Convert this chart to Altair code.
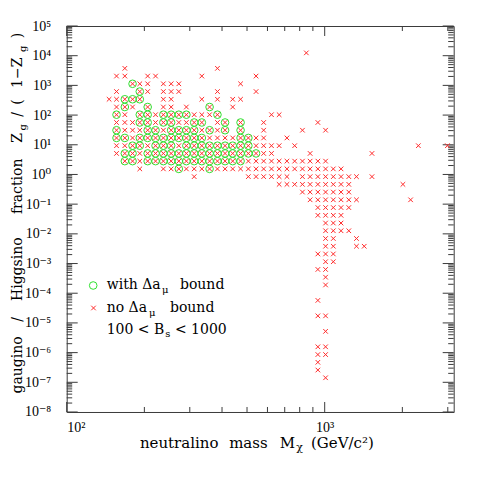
import altair as alt
import pandas as pd

# ---- data -----------------------------------------------------------------
# neutralino mass columns (GeV/c^2), grid columns c0..c40
MASS = [146, 156, 168, 180, 192, 206, 221, 237, 254, 272, 291, 312, 334, 358,
        384, 411, 440, 472, 506, 542, 580, 622, 666, 714, 765, 820, 878, 941,
        1008, 1080, 1157, 1240, 1328, 1423, 1525, 1634, 1750, 1876, 2010, 2153, 2307]
# gaugino/higgsino ratio rows r0..r40
RATIO = [3752, 2060, 1131, 620, 341, 187, 103, 56.3, 30.9, 17.0, 9.31, 5.11, 2.81,
         1.54, 0.845, 0.464, 0.255, 0.140, 0.0767, 0.0421, 0.0231, 0.0127, 0.00696,
         0.00382, 0.00210, 0.00115, 6.32e-4, 3.47e-4, 1.90e-4, 1.04e-4, 5.73e-5,
         3.15e-5, 1.73e-5, 9.48e-6, 5.20e-6, 2.86e-6, 1.57e-6, 8.60e-7, 4.72e-7,
         2.59e-7, 1.42e-7]

# row -> columns holding a "no bound" cross
CROSS_COLS = {
    0: [2, 14],
    1: [1, 2, 5, 6, 12, 19],
    2: [3, 4, 5, 7, 8, 9, 17],
    3: [1, 4, 5, 7, 8, 9, 14, 19],
    4: [0, 1, 2, 3, 4, 7, 8, 12, 14, 16, 17],
    5: [1, 2, 3, 5, 7, 8, 10, 13, 16],
    6: [1, 2, 4, 5, 6, 7, 8, 9, 10, 11, 12, 13, 14, 21, 22],
    7: [1, 2, 3, 4, 5, 6, 7, 8, 9, 10, 11, 12, 14, 15, 17, 20, 27],
    8: [1, 2, 3, 4, 5, 6, 7, 8, 9, 10, 11, 12, 13, 14, 15, 17, 20, 25, 28],
    9: [1, 2, 3, 4, 5, 6, 7, 8, 9, 10, 11, 12, 13, 14, 15, 16, 17, 18, 19, 20, 23],
    10: [1, 2, 3, 4, 5, 6, 7, 8, 9, 10, 11, 12, 13, 14, 15, 16, 17, 18, 19, 20, 21, 22, 24, 40],
    11: [1, 2, 3, 4, 5, 6, 7, 8, 9, 10, 11, 12, 13, 14, 15, 16, 17, 18, 19, 20, 21, 26, 34],
    12: [2, 3, 4, 5, 6, 7, 8, 9, 10, 11, 12, 13, 14, 15, 16, 17, 18, 19, 20, 21, 22, 23, 24, 25, 26, 27, 28],
    13: [4, 7, 8, 9, 10, 11, 12, 13, 14, 15, 16, 17, 18, 19, 20, 21, 22, 23, 24, 25, 26, 27, 28, 29, 30],
    14: [11, 18, 19, 20, 21, 22, 23, 25, 26, 27, 28, 29, 30, 31, 32, 34],
    15: [22, 23, 24, 25, 26, 27, 28, 29, 30, 31, 38],
    16: [25, 26, 27, 28, 29, 30, 31],
    17: [26, 27, 28, 29, 30, 31, 32, 39],
    18: [27, 28, 29, 30, 31],
    19: [27, 28, 29, 30],
    20: [28, 29, 30],
    21: [28, 29, 30, 31],
    22: [28, 29, 32],
    23: [28, 29, 32, 33],
    24: [27, 28, 29],
    25: [28, 29],
    26: [27, 28],
    27: [28],
    28: [28],
    30: [27],
    32: [27, 28],
    34: [28],
    36: [27, 28],
    37: [27, 28],
    38: [27],
    39: [27],
    40: [28],
}
# row -> columns that also carry a "with bound" circle
CIRCLE_COLS = {
    2: [3],
    3: [4],
    4: [2, 3, 4],
    5: [2, 5, 13],
    6: [1, 4, 5, 7, 8, 9, 10, 14],
    7: [4, 5, 7, 8, 11, 12, 15, 17],
    8: [1, 5, 6, 8, 9, 10, 11, 13, 15, 17],
    9: [1, 2, 4, 5, 6, 7, 8, 9, 10, 11, 12, 17, 18],
    10: [3, 4, 6, 7, 8, 10, 11, 12, 13, 14, 15, 16, 17, 18],
    11: [2, 3, 5, 6, 7, 8, 9, 10, 11, 12, 13, 14, 15, 16, 17, 18, 19],
    12: [2, 3, 5, 6, 7, 8, 9, 10, 11, 12, 13, 14, 15, 16, 17],
    13: [9, 13],
}
# isolated crosses off the grid
EXTRA_MASS = [849, 2990]
EXTRA_RATIO = [12450, 9.31]

# axis decorations
Y_MAJOR = [10.0 ** e for e in range(-8, 6)]
Y_MINOR = [k * 10.0 ** e for e in range(-8, 5) for k in range(2, 10)]
X_MAJOR = [100, 1000]
X_MINOR = [200, 300, 400, 500, 600, 700, 800, 900, 2000, 3000]

# ---- tables ----------------------------------------------------------------
cross_rows = [{"mass": MASS[c], "ratio": RATIO[r]} for r, cols in CROSS_COLS.items() for c in cols]
cross_rows += [{"mass": m, "ratio": v} for m, v in zip(EXTRA_MASS, EXTRA_RATIO)]
circle_rows = [{"mass": MASS[c], "ratio": RATIO[r]} for r, cols in CIRCLE_COLS.items() for c in cols]
crosses = pd.DataFrame(cross_rows)
circles = pd.DataFrame(circle_rows)

W, H = 387, 386
SERIF = "DejaVu Serif"
LABF = "Liberation Serif, DejaVu Serif"
RED = "#ff2a2a"
GREEN = "#2ee02e"
AX = "#3a3a3a"
X_PATH = "M-1,-1L1,1M-1,1L1,-1"

XS = alt.Scale(type="log", domain=[100, 3162.3], nice=False)
YS = alt.Scale(type="log", domain=[1e-8, 1e5], nice=False)
X_AX = alt.Axis(values=X_MAJOR, title=None, ticks=False, domain=False, grid=False,
                labelFont=LABF, labelFontSize=14, labelColor="black", labelPadding=9,
                labelExpr="['10²','10³'][round(log(datum.value)/LN10)-2]")
Y_AX = alt.Axis(values=Y_MAJOR, title=None, ticks=False, domain=False, grid=False,
                labelFont=LABF, labelFontSize=14, labelColor="black", labelPadding=16,
                labelExpr="['10⁻⁸','10⁻⁷','10⁻⁶','10⁻⁵','10⁻⁴','10⁻³','10⁻²','10⁻¹','10⁰','10¹','10²','10³','10⁴','10⁵'][round(log(datum.value)/LN10)+8]")


def ytick(vals, x0, x1):
    return alt.Chart(pd.DataFrame({"v": vals})).mark_rule(color=AX, strokeWidth=1).encode(
        y=alt.Y("v:Q", scale=YS, axis=Y_AX), x=alt.value(x0), x2=alt.value(x1))


def xtick(vals, y0, y1):
    return alt.Chart(pd.DataFrame({"v": vals})).mark_rule(color=AX, strokeWidth=1).encode(
        x=alt.X("v:Q", scale=XS, axis=X_AX), y=alt.value(y0), y2=alt.value(y1))


def txt(s, x, y, size=14, align="left", angle=0, font=SERIF):
    return alt.Chart(alt.Data(values=[{"t": s}])).mark_text(
        align=align, baseline="alphabetic", fontSize=size, font=font, angle=angle,
        color="black").encode(text="t:N", x=alt.value(x), y=alt.value(y))


ticks = [
    ytick(Y_MAJOR, 0, 11), ytick(Y_MINOR, 0, 5.5),
    ytick(Y_MAJOR, W - 11, W), ytick(Y_MINOR, W - 5.5, W),
    xtick(X_MAJOR, H - 10, H), xtick(X_MINOR, H - 5, H),
    xtick(X_MAJOR, 0, 10), xtick(X_MINOR, 0, 5),
]

circ_layer = alt.Chart(circles).mark_point(
    shape="circle", filled=False, color=GREEN, strokeWidth=1, size=58, opacity=1
).encode(x=alt.X("mass:Q", scale=XS, axis=X_AX), y=alt.Y("ratio:Q", scale=YS, axis=Y_AX))

cross_layer = alt.Chart(crosses).mark_point(
    shape=X_PATH, filled=False, color=RED, strokeWidth=1, size=21, opacity=1
).encode(x=alt.X("mass:Q", scale=XS, axis=X_AX), y=alt.Y("ratio:Q", scale=YS, axis=Y_AX))

leg_circ = alt.Chart(alt.Data(values=[{"k": 1}])).mark_point(
    shape="circle", filled=False, color=GREEN, strokeWidth=1, size=58, opacity=1
).encode(x=alt.value(26.5), y=alt.value(259.5))
leg_cross = alt.Chart(alt.Data(values=[{"k": 1}])).mark_point(
    shape=X_PATH, filled=False, color=RED, strokeWidth=1, size=21, opacity=1
).encode(x=alt.value(26.8), y=alt.value(282))

YT = -44.5   # baseline of the rotated y title (plot coords)
YS_SUB = YT + 4
texts = [
    # legend
    txt("with Δa", 40, 263.3), txt("μ", 95.3, 267.5, size=10), txt("bound", 113.3, 263.3),
    txt("no Δa", 40, 285.7), txt("μ", 82.3, 290, size=10), txt("bound", 103.3, 285.7),
    txt("100 < B", 40, 308), txt("s", 98.5, 311.5, size=10), txt("< 1000", 160, 308, align="right"),
    # x title
    txt("neutralino", 112.5, 422, size=15, align="center"),
    txt("mass", 181.7, 422, size=15, align="center"),
    txt("M", 220.8, 422, size=15, align="center"),
    txt("χ", 233, 425.3, size=11, align="center"),
    txt("(GeV/c²)", 275.7, 422, size=15, align="center"),
    # y title (rotated)
    txt("gaugino", YT, 339, size=14, align="center", angle=270),
    txt("/", YT, 293.3, size=14, align="center", angle=270),
    txt("Higgsino", YT, 243.2, size=14, align="center", angle=270),
    txt("fraction", YT, 160.3, size=14, align="center", angle=270),
    txt("Z", YT, 111.9, size=14, align="center", angle=270),
    txt("g", YS_SUB, 101.4, size=10, align="center", angle=270),
    txt("/", YT, 88.5, size=14, align="center", angle=270),
    txt("(", YT, 76, size=14, align="center", angle=270),
    txt("1−Z", YT, 46.8, size=14, align="center", angle=270),
    txt("g", YS_SUB, 22.8, size=10, align="center", angle=270),
    txt(")", YT, 9.6, size=14, align="center", angle=270),
]

chart = alt.layer(*ticks, circ_layer, cross_layer, leg_circ, leg_cross, *texts).properties(
    width=W, height=H,
    autosize=alt.AutoSizeParams(type="none"),
    padding={"left": 58.7, "top": 18, "right": 10, "bottom": 50},
).configure_view(stroke=AX, strokeWidth=1)

chart.save("out.html", embed_options={"renderer": "svg", "actions": False})
